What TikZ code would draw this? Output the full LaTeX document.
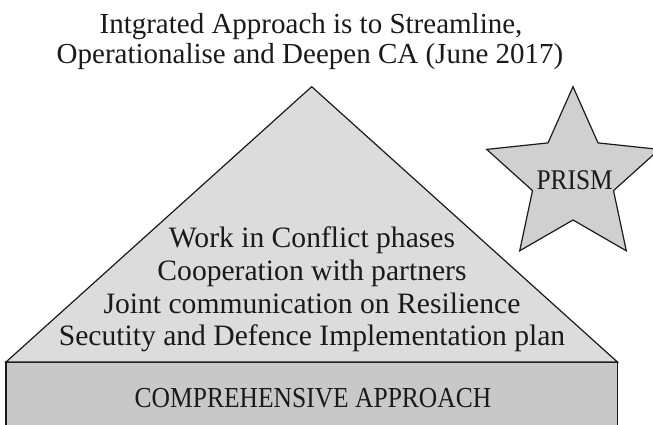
\documentclass[tikz,border=0pt]{standalone}
\usepackage{graphicx}
\usepackage{fontspec}
\setmainfont{Liberation Serif}
\definecolor{pyrgray}{HTML}{DCDCDC}
\definecolor{basegray}{HTML}{C8C8C8}
\definecolor{stargray}{HTML}{D0D0D0}
\definecolor{inkgray}{HTML}{1A1A1A}
\tikzset{
  shapeline/.style={draw=inkgray, line width=1.2pt, line join=miter},
  lbl/.style={inner sep=0pt, anchor=base, text=inkgray},
  titlefont/.style={font=\fontsize{29}{30}\selectfont},
  itemfont/.style={font=\fontsize{29.6}{33}\selectfont},
}
\begin{document}
\begin{tikzpicture}[x=1pt,y=-1pt]
\useasboundingbox (0,0) rectangle (653,425);
\clip (0,0) rectangle (653,425);
\fill[white] (0,0) rectangle (653,425);
% base block
\draw[shapeline, fill=basegray] (6,440) -- (6,362) -- (617.4,362) -- (617.4,440);
% pyramid
\draw[shapeline, fill=pyrgray] (6,362) -- (311.7,86.7) -- (617.4,362) -- cycle;
% star
\draw[shapeline, fill=stargray] (573,86.7) -- (598,142.9) -- (659.3,149.4) -- (613.5,190.6)
  -- (626.3,250.8) -- (573,220) -- (519.7,250.8) -- (532.5,190.6) -- (486.7,149.4)
  -- (548,142.9) -- cycle;
% title
\node[lbl, titlefont] (t1) at (311,33.3) {Intgrated Approach is to Streamline,};
\node[lbl, titlefont] (t2) at (310,63.3) {Operationalise and Deepen CA (June 2017)};
% pyramid items
\node[lbl, itemfont] (i1) at (312,247.5) {Work in Conflict phases};
\node[lbl, itemfont] (i2) at (312,280.3) {Cooperation with partners};
\node[lbl, itemfont] (i3) at (312,313.1) {Joint communication on Resilience};
\node[lbl, itemfont] (i4) at (312,345.9) {Secutity and Defence Implementation plan};
% base label
\node[lbl, font=\fontsize{29}{30}\selectfont] (ca) at (313,407.3) {\scalebox{0.88}[1]{COMPREHENSIVE APPROACH}};
% star label
\node[lbl, font=\fontsize{28.5}{30}\selectfont] (prism) at (574.7,189.3) {\scalebox{0.89}[1]{PRISM}};
\end{tikzpicture}
\end{document}
